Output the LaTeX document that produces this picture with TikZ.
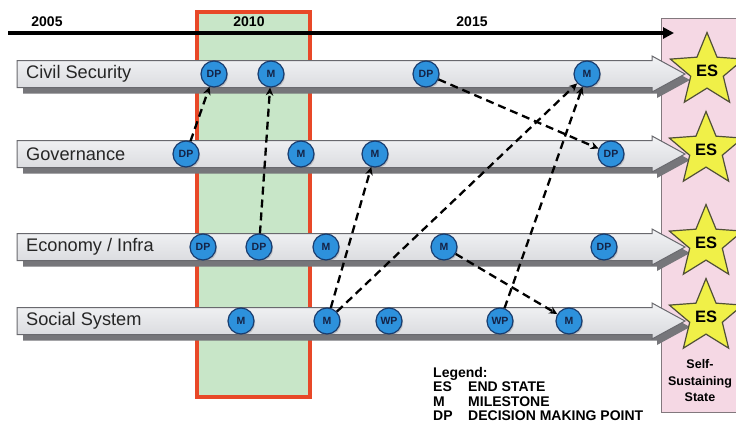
\documentclass[tikz,border=0pt]{standalone}
\usepackage{fontspec}
\setmainfont{Liberation Sans}
\usetikzlibrary{shapes.geometric,arrows.meta,shadows}
\definecolor{greenc}{RGB}{200,230,200}
\definecolor{redc}{RGB}{232,72,40}
\definecolor{pinkc}{RGB}{245,216,228}
\definecolor{pinkb}{RGB}{130,120,125}
\definecolor{bandtop}{RGB}{242,243,245}
\definecolor{bandbot}{RGB}{216,217,221}
\definecolor{bandbd}{RGB}{105,105,110}
\definecolor{bandsh}{RGB}{118,118,122}
\definecolor{msfill}{RGB}{45,145,220}
\definecolor{msbd}{RGB}{25,60,110}
\definecolor{mstext}{RGB}{20,35,70}
\definecolor{starfill}{RGB}{240,240,72}
\definecolor{starbd}{RGB}{80,80,55}
\tikzset{
  ms/.style={circle, fill=msfill, draw=msbd, line width=1.2pt, minimum size=26pt, inner sep=0pt,
    font=\fontsize{10.5}{11}\selectfont\bfseries, text=mstext,
    drop shadow={shadow xshift=1.2pt, shadow yshift=-1.5pt, opacity=0.35}},
  bandlabel/.style={anchor=west, inner sep=0pt, font=\fontsize{18.2}{21}\selectfont, text=black!85},
  yearlbl/.style={inner sep=0pt, font=\fontsize{14}{15}\selectfont\bfseries},
  dasharrow/.style={line width=2.3pt, dash pattern=on 8pt off 5pt, -{Stealth[length=8pt,width=7.5pt]}},
  esstar/.style={star, star points=5, star point ratio=2.25, minimum size=77pt, inner sep=0pt,
    fill=starfill, draw=starbd, line width=1.2pt, font=\fontsize{16.5}{18}\selectfont\bfseries},
  legtxt/.style={anchor=base west, inner sep=0pt, font=\fontsize{14}{15}\selectfont\bfseries}
}
\newcommand\mkband[3]{%
  \begin{scope}[shift={(0,#1)}]
    \fill[bandsh] (23,-7.5) -- (657,-7.5) -- (657,-12) -- (690,6) -- (657,24) -- (657,19.5) -- (23,19.5) -- cycle;
    \shade[top color=bandtop, bottom color=bandbot, draw=bandbd, line width=1pt]
      (17,-13.5) -- (652,-13.5) -- (652,-18) -- (685,0) -- (652,18) -- (652,13.5) -- (17,13.5) -- cycle;
    \node[bandlabel] (#2) at (26,0) {#3};
  \end{scope}}
\begin{document}
\begin{tikzpicture}[x=1pt,y=-1pt]
\useasboundingbox (0,0) rectangle (736,429);
\fill[white] (0,0) rectangle (736,429);
% highlighted 2010 window
\draw[draw=redc, fill=greenc, line width=3.5pt] (197,12) rectangle (310,397);
% self-sustaining zone
\draw[draw=pinkb, fill=pinkc, line width=1pt] (661,18) rectangle (750,412);
% timeline
\coordinate (tl0) at (8,33);
\coordinate (tl1) at (674,33);
\draw[line width=3.5pt, -{Triangle[length=11pt,width=11pt]}] (tl0) -- (tl1);
\node[yearlbl] (y2005) at (47,22) {2005};
\node[yearlbl] (y2010) at (249,22) {2010};
\node[yearlbl] (y2015) at (472,22) {2015};
% bands
\mkband{74}{lcivil}{Civil Security}
\mkband{154}{lgov}{Governance}
\mkband{247}{lecon}{Economy / Infra}
\mkband{321}{lsoc}{Social System}
% civil security
\node[ms] (c1) at (214,74) {DP};
\node[ms] (c2) at (271,74) {M};
\node[ms] (c3) at (426,74) {DP};
\node[ms] (c4) at (587,74) {M};
% governance
\node[ms] (g1) at (186,154) {DP};
\node[ms] (g2) at (301,154) {M};
\node[ms] (g3) at (375,154) {M};
\node[ms] (g4) at (611,154) {DP};
% economy
\node[ms] (e1) at (203,247) {DP};
\node[ms] (e2) at (259,247) {DP};
\node[ms] (e3) at (326,247) {M};
\node[ms] (e4) at (444,247) {M};
\node[ms] (e5) at (604,247) {DP};
% social
\node[ms] (s1) at (241,321) {M};
\node[ms] (s2) at (327,321) {M};
\node[ms] (s3) at (389,321) {WP};
\node[ms] (s4) at (500,321) {WP};
\node[ms] (s5) at (569,321) {M};
% dependencies
\draw[dasharrow] (g1) -- (c1);
\draw[dasharrow] (e2) -- (c2);
\draw[dasharrow] (c3) -- (g4);
\draw[dasharrow] (s2) -- (c4);
\draw[dasharrow] (s4) -- (c4);
\draw[dasharrow] (s2) -- (g3);
\draw[dasharrow] (e4) -- (s5);
% end states
\node[esstar] (es1) at (707,71) {ES};
\node[esstar] (es2) at (706,150) {ES};
\node[esstar] (es3) at (706,243) {ES};
\node[esstar] (es4) at (706,317) {ES};
\node[align=center, inner sep=0pt, font=\fontsize{12.5}{16.5}\selectfont\bfseries] (sss) at (700,381) {Self-\\Sustaining\\State};
% legend
\node[legtxt] (leg) at (433,377) {Legend:};
\node[legtxt] (kES) at (433,391) {ES};
\node[legtxt] (vES) at (468,391) {END STATE};
\node[legtxt] (kM) at (433,406) {M};
\node[legtxt] (vM) at (468,406) {MILESTONE};
\node[legtxt] (kDP) at (433,420) {DP};
\node[legtxt] (vDP) at (468,420) {DECISION MAKING POINT};
\end{tikzpicture}
\end{document}
